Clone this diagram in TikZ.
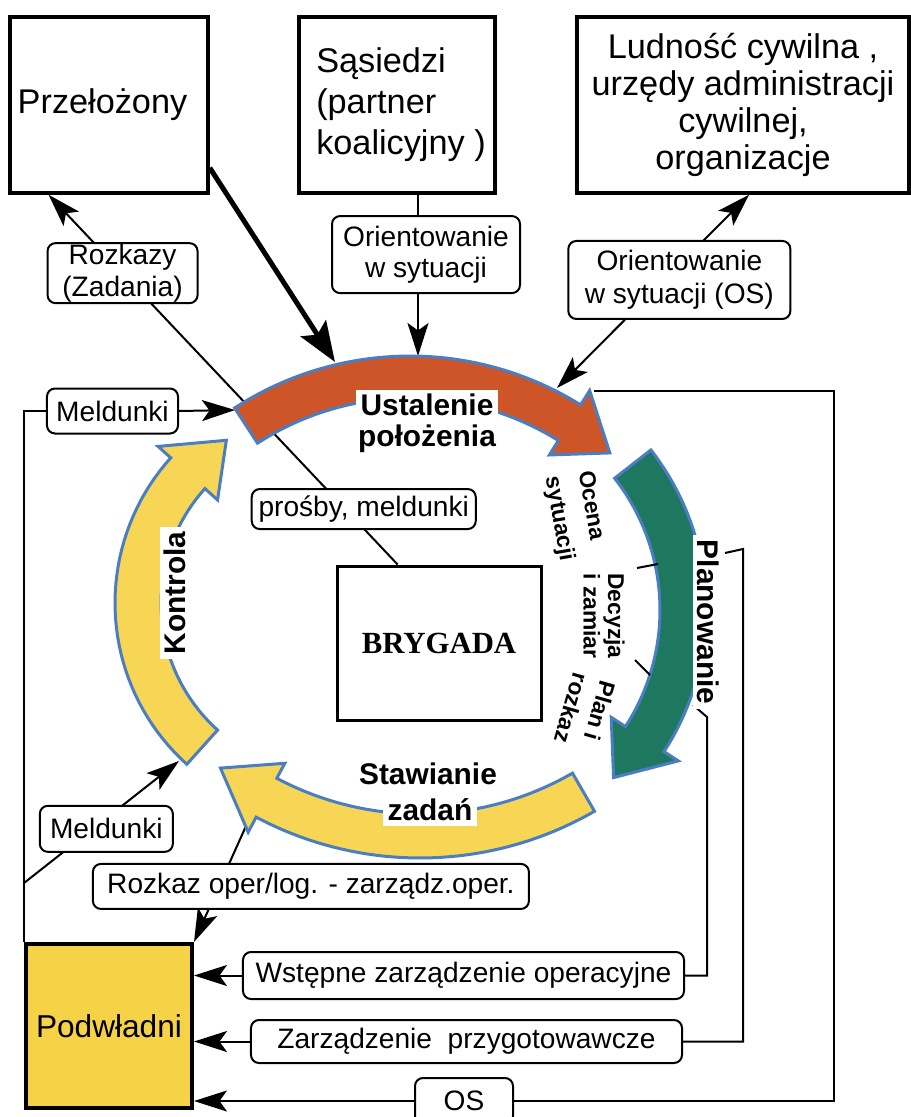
\documentclass[tikz,border=0pt]{standalone}
\usepackage{fontspec}
\setmainfont{Liberation Sans}
\newfontfamily\brygfont{Liberation Serif}
\usetikzlibrary{arrows.meta,calc,positioning}

\definecolor{ustcol}{RGB}{206,85,40}
\definecolor{plancol}{RGB}{30,120,95}
\definecolor{kontcol}{RGB}{247,214,85}
\definecolor{podwcol}{RGB}{245,210,70}
\definecolor{rimcol}{RGB}{75,125,195}

\tikzset{
  bigbox/.style={draw, line width=0.7mm, inner sep=0pt, align=center,
    minimum height=35.2mm, font=\fontsize{19.5}{22}\selectfont},
  lab/.style={draw, fill=white, rounded corners=1.6mm, line width=0.4mm,
    inner sep=0pt, align=center, font=\fontsize{16}{18}\selectfont},
  conn/.style={line width=0.4mm},
  cyc/.style={draw=rimcol, line width=0.6mm},
  cyclab/.style={font=\bfseries\fontsize{17}{19}\selectfont, inner sep=2.5pt},
  sidelab/.style={font=\bfseries\fontsize{13}{16}\selectfont, align=left, inner sep=0pt}
}

% curved arrow of the cycle: colour, centre x, centre y, inner r, outer r,
% tail angle, head base angle, tip angle
\newcommand{\cyclearrow}[8]{%
  \filldraw[cyc, fill=#1]
    plot[domain=#6:#7, samples=40] ({#2+#5*cos(\x)},{#3+#5*sin(\x)})
    -- ({#2+(#5+17)*cos(#7)},{#3+(#5+17)*sin(#7)})
    -- ({#2+(#4+#5)/2*cos(#8)},{#3+(#4+#5)/2*sin(#8)})
    -- ({#2+(#4-17)*cos(#7)},{#3+(#4-17)*sin(#7)})
    -- plot[domain=#7:#6, samples=40] ({#2+#4*cos(\x)},{#3+#4*sin(\x)})
    -- cycle;}

\begin{document}
\begin{tikzpicture}[x=0.2mm, y=-0.2mm,
  >={Stealth[length=6.6mm, width=4.2mm, inset=1.5mm]}]
\useasboundingbox (0,0) rectangle (910,1117);

% outside partners
\node[bigbox, minimum width=39.6mm] (prz) at (109,105) {\hspace*{-2.6mm}Przełożony};
\node[bigbox, minimum width=39.2mm, align=left, font=\fontsize{19.5}{23.4}\selectfont] (sas) at (397,105)
  {\hspace*{1.6mm}Sąsiedzi\\\hspace*{1.6mm}(partner\\\hspace*{1.6mm}koalicyjny )};
\node[bigbox, minimum width=66.4mm, font=\fontsize{19.5}{21}\selectfont] (lud) at (743,105)
  {Ludność cywilna ,\\urzędy administracji\\cywilnej,\\organizacje};

% brigade and subordinates
\node[draw, line width=0.6mm, minimum width=40.8mm, minimum height=30.8mm,
  font=\brygfont\bfseries\fontsize{17.5}{20}\selectfont] (bry) at (439,643) {BRYGADA};
\node[draw, fill=podwcol, line width=0.8mm, minimum width=33.2mm, minimum height=32.8mm,
  font=\fontsize{18}{20}\selectfont] (podw) at (109,1026) {Podwładni};

% points on the cycle arrows
\coordinate (ustA) at (335,362);
\coordinate (ustB) at (418,356);
\coordinate (ustC) at (557,388);
\coordinate (ustT) at (235,410);
\coordinate (ustR) at (594,391);
\coordinate (planA) at (725,553);
\coordinate (planB) at (693,705);
\coordinate (stawH) at (246,826);
\coordinate (kontT) at (179,761);
\coordinate (meldK) at ([yshift=11.8mm]podw.north west);
\coordinate (ludin) at ($(lud.south west)!0.518!(lud.south east)$);

% connectors
\draw[conn,->] ($(bry.north west)!0.3!(bry.north east)$)
  -- node[lab, pos=0.15, xshift=3.7mm, minimum width=44.8mm, minimum height=8mm] (prosby) {prośby, meldunki}
     node[lab, pos=0.788, minimum width=30mm, minimum height=12mm] (rozk) {Rozkazy\\(Zadania)}
  ($(prz.south west)!0.2!(prz.south east)$);
\draw[line width=1mm, -{Stealth[length=8mm, width=6mm, inset=1.5mm]}]
  ($(prz.north east)!0.85!(prz.south east)$) -- (ustA);
\draw[conn,->] (sas.south -| ustB)
  -- node[lab, pos=0.371, xshift=1.6mm, minimum width=37.6mm, minimum height=15.4mm] (ori1) {Orientowanie\\w sytuacji}
  (ustB);
\draw[conn,<->] (ustC)
  -- node[lab, pos=0.559, xshift=3mm, minimum width=44.4mm, minimum height=15.6mm,
       font=\fontsize{16}{19}\selectfont] (ori2) {Orientowanie\\w sytuacji (OS)}
  (ludin);

\node[lab, minimum width=26.2mm, minimum height=9mm] (meld1) at (112.5,411) {Meldunki};
\draw[conn] (podw.north west) |- (meld1.west);
\draw[conn,->] (meld1.east) -- (ustT);
\draw[conn,->] (meldK)
  -- node[lab, pos=0.444, xshift=2.7mm, minimum width=26.6mm, minimum height=9.2mm] (meld2) {Meldunki}
  (kontT);
\draw[conn,->] (stawH)
  -- node[lab, pos=0.521, xshift=18.4mm, minimum width=87.2mm, minimum height=9mm] (rozop)
       {Rozkaz oper/log. - zarządz.oper.}
  (podw.north east);

\node[lab, minimum width=88.2mm, minimum height=9.4mm] (wstep) at (463.5,975.5) {Wstępne zarządzenie operacyjne};
\node[lab, minimum width=86.2mm, minimum height=8.6mm] (zarz) at (466.5,1041.5) {Zarządzenie\ \ przygotowawcze};
\node[lab, minimum width=19.6mm, minimum height=9.2mm] (os) at (464,1101) {OS};
\draw[conn,->] (wstep.west) -- (wstep.west -| podw.east);
\draw[conn,->] (zarz.west) -- (zarz.west -| podw.east);
\draw[conn,->] (os.west) -- (os.west -| podw.east);
\draw[conn] (wstep.east) -| ([shift={(14,12)}]planB) -- (planB);
\draw[conn] (zarz.east) -| ([shift={(18,-4)}]planA) -- (planA);
\draw[conn] (os.east) -| ([shift={(240,0)}]ustR) -- (ustR);

% the cycle
\cyclearrow{ustcol}{410}{678}{280}{322}{-123}{-58}{-48.4}
\cyclearrow{plancol}{446}{610}{214}{260}{-38}{33}{45}
\cyclearrow{kontcol}{420}{509}{305}{349}{60}{118}{127.6}
\cyclearrow{kontcol}{332}{603}{171}{217}{132}{222}{237}

\node[cyclab, fill=white] (ustlab) at (427,405) {Ustalenie};
\node[cyclab] (ustlab2) at (427,439) {położenia};
\node[cyclab, fill=white, rotate=-90] (planlab) at (708,622) {Planowanie};
\node[cyclab] (stawlab) at (428,774) {Stawianie};
\node[cyclab, fill=white] (stawlab2) at (430,810) {zadań};
\node[cyclab, fill=white, rotate=90] (kontlab) at (175,593) {Kontrola};

\node[sidelab, rotate=-80] (ocena) at (575,516) {Ocena\\[3pt]sytuacji};
\node[sidelab, rotate=-90] (decyzja) at (604,616) {Decyzja\\[-2pt]i zamiar};
\node[sidelab, rotate=-106] (plan) at (585,712) {Plan i\\rozkaz};
\draw[conn] (637,568) -- (658,564);
\draw[conn] (635,660) -- (650,675);
\end{tikzpicture}
\end{document}
